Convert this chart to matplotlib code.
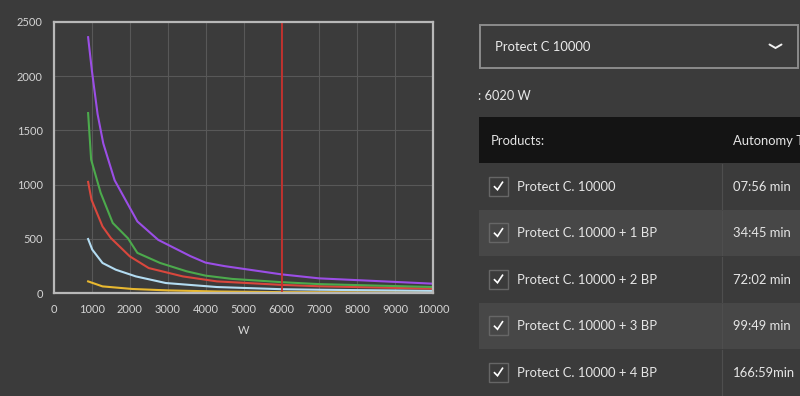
import matplotlib
matplotlib.use("Agg")
import matplotlib.pyplot as plt
from matplotlib.patches import Rectangle
from matplotlib.lines import Line2D

# ---- data ----
purple_w = [900, 1000, 1150, 1300, 1600, 2200, 2750, 3600, 4000, 4500, 6000, 7000, 10000]
purple_v = [2360, 2050, 1650, 1380, 1040, 660, 490, 340, 280, 248, 172, 135, 86]
green_w = [900, 980, 1230, 1550, 1950, 2200, 2800, 3500, 4000, 4700, 6000, 7000, 10000]
green_v = [1660, 1230, 925, 646, 505, 370, 277, 200, 160, 130, 100, 82, 55]
red_w = [900, 990, 1280, 1500, 2000, 2500, 3400, 4300, 6000, 7000, 10000]
red_v = [1025, 860, 614, 507, 338, 230, 153, 107, 75, 62, 40]
blue_w = [900, 1010, 1280, 1630, 2160, 2950, 4300, 6000, 7000, 10000]
blue_v = [498, 400, 277, 215, 153, 92, 55, 35, 30, 20]
yellow_w = [900, 1280, 2070, 3000, 4300, 6000, 10000]
yellow_v = [107, 61, 37, 24, 14, 8, 4]
selected_w = 6020

x_ticks = list(range(0, 10001, 1000))
y_ticks = list(range(0, 2501, 500))

dropdown_label = "Protect C 10000"
power_label = ": 6020 W"
header_labels = ["Products:", "Autonomy T"]
products = ["Protect C. 10000", "Protect C. 10000 + 1 BP", "Protect C. 10000 + 2 BP",
            "Protect C. 10000 + 3 BP", "Protect C. 10000 + 4 BP"]
autonomy = ["07:56 min", "34:45 min", "72:02 min", "99:49 min", "166:59min"]

BG = "#3b3b3b"
FONT = ["Lato", "DejaVu Sans"]
plt.rcParams['font.family'] = FONT

W, H = 800, 396
fig = plt.figure(figsize=(W / 100, H / 100), dpi=100, facecolor=BG)

# ---- UI overlay (pixel coordinates) ----
ui = fig.add_axes([0, 0, 1, 1], zorder=0)
ui.set_xlim(0, W)
ui.set_ylim(H, 0)
ui.axis("off")
ui.set_facecolor("none")

TS = 9.4
# dropdown
ui.add_patch(Rectangle((479.5, 24.5), 318, 43, facecolor=BG, edgecolor="#8c8c8c", lw=1.4))
ui.text(495, 47, dropdown_label, color="#ececec", fontsize=TS, va="center", ha="left")
ui.add_line(Line2D([769.5, 775.5, 781.5], [44.5, 48, 44.5], color="#f0f0f0", lw=1.4,
                   solid_capstyle="round", solid_joinstyle="miter"))
ui.text(478, 96, power_label, color="#e8e8e8", fontsize=9.2, va="center", ha="left")

# header
ui.add_patch(Rectangle((479, 117), 330, 46, facecolor="#141414", edgecolor="none"))
ui.text(491, 141, header_labels[0], color="#e4e4e4", fontsize=TS, va="center", ha="left")
ui.text(733, 141, header_labels[1], color="#e4e4e4", fontsize=TS, va="center", ha="left")

row_top = 163
row_h = 46.5
for i, (p, a) in enumerate(zip(products, autonomy)):
    y0 = row_top + i * row_h
    col = "#474747" if i % 2 == 1 else BG
    ui.add_patch(Rectangle((479, y0), 330, row_h, facecolor=col, edgecolor="none"))
    ui.add_line(Line2D([721.5, 721.5], [y0 + 1, y0 + row_h - 1], color="#4e4e4e", lw=0.8))
    cy = y0 + row_h / 2
    ui.add_patch(Rectangle((488.5, cy - 9.5), 19, 19, facecolor="none", edgecolor="#666666", lw=1.0))
    ui.add_line(Line2D([494.5, 497.5, 502.5], [cy + 0.5, cy + 3.5, cy - 4], color="#ffffff", lw=1.2,
                       solid_joinstyle="miter"))
    ui.text(517, cy + 0.5, p, color="#e6e6e6", fontsize=TS, va="center", ha="left")
    ui.text(733, cy + 0.5, a, color="#e6e6e6", fontsize=TS, va="center", ha="left")

# ---- chart ----
ax = fig.add_axes([54 / W, (H - 293) / H, (433 - 54) / W, (293 - 22) / H], zorder=2)
ax.set_facecolor(BG)
ax.set_xlim(0, 10000)
ax.set_ylim(0, 2500)
ax.set_xticks(x_ticks)
ax.set_yticks(y_ticks)
ax.grid(True, color="#585858", lw=0.8)
ax.set_axisbelow(True)
ax.tick_params(length=0, colors="#d4d4d4", labelsize=8, pad=8)
for s in ax.spines.values():
    s.set_color("#b8b8b8")
    s.set_linewidth(1.6)
ax.set_xlabel("W", color="#d8d8d8", fontsize=8, labelpad=7)

lw = 1.5
ax.plot(yellow_w, yellow_v, color="#e8b830", lw=lw, clip_on=False)
ax.plot(blue_w, blue_v, color="#b3dcf2", lw=lw)
ax.plot(red_w, red_v, color="#d9473d", lw=lw)
ax.plot(green_w, green_v, color="#4caa4c", lw=lw)
ax.plot(purple_w, purple_v, color="#9b4ee6", lw=lw)
ax.axvline(selected_w, color="#c8302c", lw=1.3)

fig.savefig("out.png", dpi=100, facecolor=BG)
